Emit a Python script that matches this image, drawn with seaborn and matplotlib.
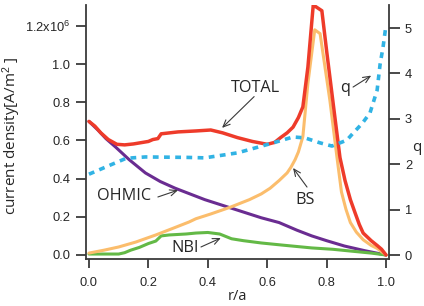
import matplotlib
matplotlib.use("Agg")
import matplotlib.pyplot as plt
import seaborn as sns

sns.set_style("ticks")
plt.rcParams["font.family"] = ["Liberation Sans", "DejaVu Sans"]
plt.rcParams["mathtext.fontset"] = "custom"
plt.rcParams["mathtext.rm"] = "Liberation Sans"
plt.rcParams["mathtext.it"] = "Liberation Sans"

# current densities in units of 1e6 A/m^2, vs normalised radius r/a
r_total = [0, 0.02, 0.04, 0.065, 0.094, 0.12, 0.15, 0.20, 0.215, 0.232, 0.243, 0.30, 0.36, 0.41,
           0.45, 0.50, 0.55, 0.60, 0.625, 0.645, 0.667, 0.687, 0.705, 0.72, 0.737, 0.755, 0.784,
           0.80, 0.828, 0.845, 0.862, 0.88, 0.896, 0.91, 0.923, 0.95, 0.97, 0.985, 1.0]
j_total = [0.70, 0.675, 0.64, 0.605, 0.58, 0.577, 0.582, 0.595, 0.605, 0.61, 0.635, 0.645, 0.65,
           0.655, 0.64, 0.615, 0.595, 0.58, 0.59, 0.615, 0.64, 0.67, 0.72, 0.776, 0.985, 1.31,
           1.28, 1.07, 0.72, 0.51, 0.39, 0.29, 0.22, 0.16, 0.115, 0.075, 0.05, 0.03, 0.0]

r_bs = [0, 0.05, 0.10, 0.158, 0.225, 0.283, 0.337, 0.36, 0.41, 0.475, 0.54, 0.58, 0.61, 0.64,
        0.667, 0.68, 0.694, 0.705, 0.72, 0.737, 0.76, 0.778, 0.811, 0.835, 0.85, 0.865, 0.88,
        0.90, 0.923, 0.95, 0.97, 1.0]
j_bs = [0.01, 0.025, 0.042, 0.068, 0.105, 0.14, 0.173, 0.19, 0.215, 0.25, 0.29, 0.32, 0.35,
        0.39, 0.43, 0.46, 0.50, 0.54, 0.62, 0.90, 1.18, 1.16, 0.81, 0.51, 0.33, 0.24, 0.17,
        0.12, 0.08, 0.05, 0.035, 0.0]

r_ohmic = [0, 0.03, 0.057, 0.09, 0.135, 0.19, 0.24, 0.29, 0.34, 0.39, 0.46, 0.53, 0.58, 0.64,
           0.70, 0.75, 0.80, 0.86, 0.93, 1.0]
j_ohmic = [0.70, 0.655, 0.61, 0.565, 0.50, 0.43, 0.385, 0.35, 0.32, 0.29, 0.255, 0.22, 0.195,
           0.17, 0.13, 0.10, 0.075, 0.047, 0.022, 0.0]

r_nbi = [0, 0.10, 0.12, 0.14, 0.17, 0.20, 0.225, 0.243, 0.27, 0.327, 0.36, 0.40, 0.44, 0.48,
         0.52, 0.58, 0.65, 0.75, 0.82, 0.885, 0.95, 1.0]
j_nbi = [0.005, 0.005, 0.012, 0.025, 0.04, 0.06, 0.073, 0.10, 0.105, 0.11, 0.115, 0.118, 0.11,
         0.085, 0.075, 0.063, 0.052, 0.037, 0.03, 0.02, 0.01, 0.0]

r_q = [0, 0.057, 0.125, 0.19, 0.33, 0.39, 0.50, 0.62, 0.687, 0.727, 0.778, 0.818, 0.868, 0.89,
       0.92, 0.946, 0.97, 0.98, 0.99, 1.0]
q_vals = [1.78, 1.94, 2.13, 2.16, 2.15, 2.14, 2.25, 2.47, 2.6, 2.58, 2.47, 2.40, 2.53, 2.69,
          2.9, 3.13, 3.63, 4.2, 4.58, 5.07]

x_ticks = [0.0, 0.2, 0.4, 0.6, 0.8, 1.0]
x_labels = ["0.0", "0.2", "0.4", "0.6", "0.8", "1.0"]
y_ticks = [0.0, 0.2, 0.4, 0.6, 0.8, 1.0, 1.2]
y_labels = ["0.0", "0.2", "0.4", "0.6", "0.8", "1.0", "1.2x10$^{6}$"]
q_ticks = [0, 1, 2, 3, 4, 5]

dark = "#3a3a3a"
text_col = "#262626"
label_font = ["Open Sans", "DejaVu Sans"]

fig = plt.figure(figsize=(4.24, 3.06), dpi=100)
ax = fig.add_axes([86 / 424, 1 - 259 / 306, 303 / 424, 254 / 306])
ax2 = ax.twinx()

sns.lineplot(x=r_ohmic, y=j_ohmic, ax=ax, color="#6a2c91", linewidth=2.2, sort=False)
sns.lineplot(x=r_nbi, y=j_nbi, ax=ax, color="#63b946", linewidth=2.2, sort=False)
sns.lineplot(x=r_bs, y=j_bs, ax=ax, color="#fbbd6c", linewidth=2.2, sort=False)
sns.lineplot(x=r_total, y=j_total, ax=ax, color="#ee3b2a", linewidth=2.5, sort=False)
sns.lineplot(x=r_q, y=q_vals, ax=ax2, color="#31b3e4", linewidth=2.6, sort=False,
             linestyle=(0, (1.6, 1.5)))

ax.set_xlim(-0.01, 1.01)
ax.set_ylim(-0.021, 1.31)
ax2.set_ylim(-0.088, 5.507)

ax.set_xticks(x_ticks)
ax.set_xticklabels(x_labels)
ax.set_yticks(y_ticks)
ax.set_yticklabels(y_labels)
ax2.set_yticks(q_ticks)

for a in (ax, ax2):
    a.spines["top"].set_visible(False)
    for s in a.spines.values():
        s.set_color(dark)
        s.set_linewidth(1.3)
    a.tick_params(direction="out", length=7, width=1.3, color=dark, labelsize=9.3,
                  labelcolor=text_col, pad=4.3)
ax.tick_params(axis="x", length=6.5, pad=6.5)
ax2.tick_params(axis="y", length=8, pad=3.5)
ax.spines["right"].set_visible(False)
ax2.spines["left"].set_visible(False)
ax2.spines["bottom"].set_visible(False)

ax.set_xlabel("r/a", fontsize=10.5, family=label_font, color=text_col)
ax.xaxis.set_label_coords(0.5, -0.12)
ax.set_ylabel("current density[A/m$^{2}$ ]", fontsize=11, family=label_font, color=text_col)
ax.yaxis.set_label_coords(-0.208, 0.484)
ax2.set_ylabel("q", fontsize=11, family=label_font, color=text_col, rotation=0)
ax2.yaxis.set_label_coords(1.092, 0.47)

arrow = dict(arrowstyle="->,head_length=0.5,head_width=0.22", color=dark, lw=0.8,
             shrinkA=0, shrinkB=0)
txt = dict(fontsize=11.7, family=label_font, color=text_col, ha="center", va="center")

ax.text(0.559, 0.875, "TOTAL", **txt)
ax.annotate("", xy=(0.448, 0.666), xytext=(0.556, 0.83), arrowprops=arrow)
ax.text(0.862, 0.875, "q", **txt)
ax.annotate("", xy=(0.95, 0.94), xytext=(0.889, 0.88), arrowprops=arrow)
ax.text(0.118, 0.31, "OHMIC", **txt)
ax.annotate("", xy=(0.30, 0.34), xytext=(0.232, 0.304), arrowprops=arrow)
ax.text(0.323, 0.037, "NBI", **txt)
ax.annotate("", xy=(0.444, 0.089), xytext=(0.377, 0.042), arrowprops=arrow)
ax.text(0.727, 0.288, "BS", **txt)
ax.annotate("", xy=(0.687, 0.456), xytext=(0.734, 0.356), arrowprops=arrow)

fig.savefig("out.png", dpi=100)
